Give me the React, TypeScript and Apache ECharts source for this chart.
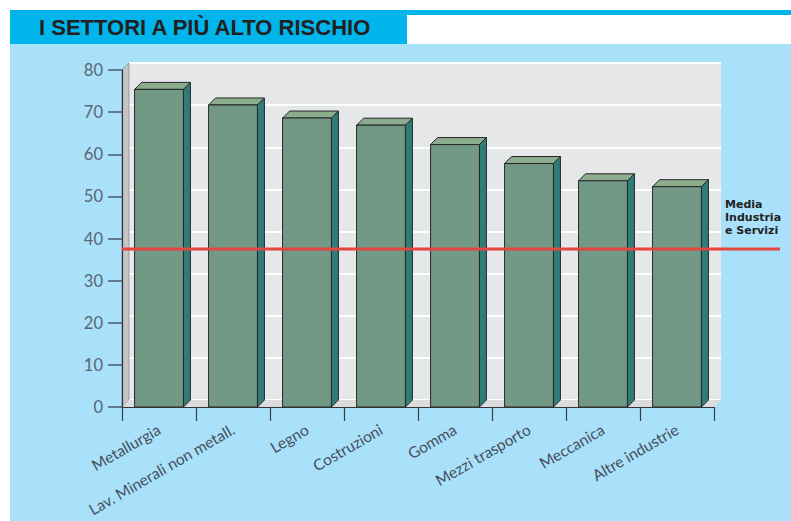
import React, { useEffect, useRef } from "react";
import * as echarts from "echarts";

const categories = [
  "Metallurgia",
  "Lav. Minerali non metall.",
  "Legno",
  "Costruzioni",
  "Gomma",
  "Mezzi trasporto",
  "Meccanica",
  "Altre industrie",
];
const values = [75.4, 71.7, 68.6, 66.9, 62.3, 57.8, 53.7, 52.3];
const mediaValue = 37.5;
const yTicks = [0, 10, 20, 30, 40, 50, 60, 70, 80];
const titleText = "I SETTORI A PIÙ ALTO RISCHIO";
const mediaLabel = "Media\nIndustria\ne Servizi";

const DEPTH = 7;

export default function App() {
  const ref = useRef<HTMLDivElement>(null);
  useEffect(() => {
    if (!ref.current) return;
    const chart = echarts.init(ref.current, null, { renderer: "svg" });
    const yMin = yTicks[0];
    const yMax = yTicks[yTicks.length - 1];
    const interval = yTicks[1] - yTicks[0];
    const labelFont = "Lato, 'Open Sans', sans-serif";

    const option: any = {
      animation: false,
      backgroundColor: "#ffffff",
      graphic: [
        { type: "rect", z: -10, shape: { x: 10, y: 44, width: 781, height: 477 }, style: { fill: "#a9e0fa" } },
        { type: "rect", z: -10, shape: { x: 10, y: 10, width: 781, height: 5 }, style: { fill: "#00b5ec" } },
        { type: "rect", z: -10, shape: { x: 10, y: 10, width: 397, height: 34 }, style: { fill: "#00b5ec" } },
        {
          type: "text",
          z: 5,
          x: 39,
          y: 27,
          style: {
            text: titleText,
            fill: "#231f20",
            font: "bold 22px 'Liberation Sans', Arial, sans-serif",
            verticalAlign: "middle",
          },
        },
        {
          type: "polygon",
          z: 1,
          shape: { points: [[122, 70], [122 + DEPTH, 70 - DEPTH], [122 + DEPTH, 407 - DEPTH], [122, 407]] },
          style: { fill: "#c4c4c6", stroke: "#666", lineWidth: 0.5 },
        },
        {
          type: "polygon",
          z: 1,
          shape: { points: [[122, 407], [122 + DEPTH, 407 - DEPTH], [714 + DEPTH, 407 - DEPTH], [714, 407]] },
          style: { fill: "#dcdcde" },
        },
        {
          type: "text",
          z: 5,
          x: 725,
          y: 198,
          style: {
            text: mediaLabel,
            fill: "#231f20",
            font: "bold 11px 'DejaVu Sans', sans-serif",
            lineHeight: 13,
          },
        },
      ],
      grid: [
        { left: 122, top: 70, width: 592, height: 337, z: 2 },
        {
          left: 122 + DEPTH,
          top: 70 - DEPTH,
          width: 592,
          height: 337,
          show: true,
          backgroundColor: "#e6e7e9",
          borderWidth: 0,
          z: 0,
        },
        { left: 122, top: 70, width: 658, height: 337, z: 3 },
      ],
      xAxis: [
        {
          type: "category",
          gridIndex: 0,
          data: categories,
          z: 6,
          axisLine: { show: true, lineStyle: { color: "#333", width: 1.2 } },
          axisTick: { show: true, length: 14, lineStyle: { color: "#3a3f44", width: 1.2 } },
          axisLabel: {
            rotate: 30,
            margin: 21,
            fontSize: 15.5,
            color: "#46505a",
            fontFamily: labelFont,
            interval: 0,
          },
        },
        { type: "category", gridIndex: 1, data: categories, show: false },
        { type: "value", gridIndex: 2, min: 0, max: 1, show: false },
      ],
      yAxis: [
        {
          type: "value",
          gridIndex: 0,
          min: yMin,
          max: yMax,
          interval,
          z: 6,
          axisLine: { show: true, lineStyle: { color: "#333", width: 1.2 } },
          axisTick: { show: true, length: 14, lineStyle: { color: "#4b5a66", width: 1.5 } },
          axisLabel: { margin: 19, fontSize: 16.5, color: "#5a6770", fontFamily: labelFont },
          splitLine: { show: false },
        },
        {
          type: "value",
          gridIndex: 1,
          min: yMin,
          max: yMax,
          interval,
          axisLine: { show: false },
          axisTick: { show: false },
          axisLabel: { show: false },
          splitLine: { show: true, lineStyle: { color: "#ffffff", width: 2 } },
        },
        { type: "value", gridIndex: 2, min: yMin, max: yMax, show: false },
      ],
      series: [
        {
          type: "custom",
          xAxisIndex: 0,
          yAxisIndex: 0,
          z: 5,
          data: values.map((v, i) => [i, v]),
          renderItem: (params: any, api: any) => {
            const idx = api.value(0);
            const v = api.value(1);
            const base = api.coord([idx, 0]);
            const top = api.coord([idx, v]);
            const bw = api.size([1, 0])[0] * 0.66;
            const x0 = base[0] - bw / 2;
            const x1 = base[0] + bw / 2;
            const yt = top[1];
            const yb = base[1];
            const d = DEPTH;
            const stroke = "#262626";
            return {
              type: "group",
              children: [
                {
                  type: "polygon",
                  shape: { points: [[x1, yt], [x1 + d, yt - d], [x1 + d, yb - d], [x1, yb]] },
                  style: { fill: "#2f7c78", stroke, lineWidth: 1 },
                },
                {
                  type: "polygon",
                  shape: { points: [[x0, yt], [x0 + d, yt - d], [x1 + d, yt - d], [x1, yt]] },
                  style: { fill: "#8bac8d", stroke, lineWidth: 1 },
                },
                {
                  type: "rect",
                  shape: { x: x0, y: yt, width: bw, height: yb - yt },
                  style: { fill: "#729886", stroke, lineWidth: 1 },
                },
              ],
            };
          },
        },
        {
          type: "line",
          xAxisIndex: 2,
          yAxisIndex: 2,
          z: 10,
          symbol: "none",
          data: [[0, mediaValue], [1, mediaValue]],
          lineStyle: { color: "#e5453f", width: 3 },
        },
      ],
    };
    chart.setOption(option);
    return () => chart.dispose();
  }, []);
  return (
    <div
      ref={ref}
      style={{ position: "absolute", left: 0, top: 0, width: 791, height: 521 }}
    />
  );
}
